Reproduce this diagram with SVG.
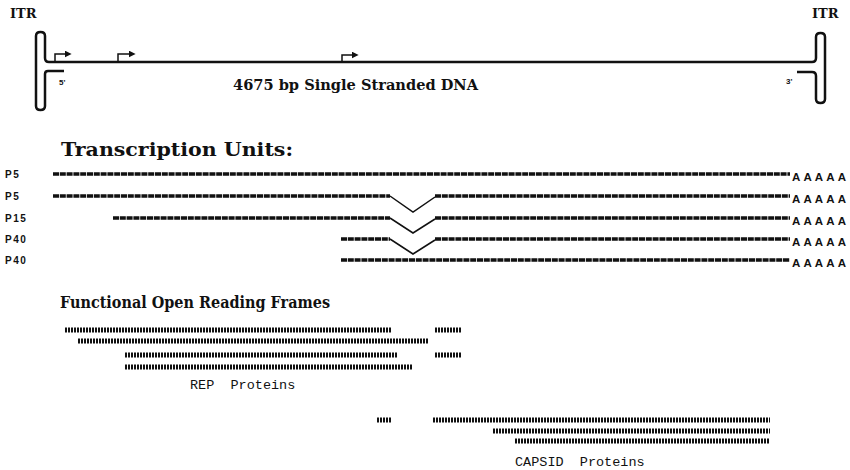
<svg xmlns="http://www.w3.org/2000/svg" width="850" height="470" viewBox="0 0 850 470">
<style>
.bg{fill:#fff}
.dna{fill:none;stroke:#111;stroke-width:2.5;stroke-linejoin:round}
.prom{fill:none;stroke:#111;stroke-width:1.5}
.itr{font-family:"DejaVu Serif","Liberation Serif",serif;font-weight:bold;font-size:13px;fill:#111}
.end{font-family:"Liberation Sans",Arial,sans-serif;font-weight:bold;font-size:8px;fill:#111}
.title{font-family:"DejaVu Serif","Liberation Serif",serif;font-weight:bold;fill:#111}
.tu{fill:none;stroke:#111;stroke-width:3.5;stroke-dasharray:6 0.8}
.vee{fill:none;stroke:#111;stroke-width:1.5}
.plab{font-family:"Liberation Sans",Arial,sans-serif;font-weight:bold;font-size:10px;letter-spacing:1.5px;fill:#111}
.polya{font-family:"Liberation Sans",Arial,sans-serif;font-weight:bold;font-size:11.5px;fill:#111}
.orf{fill:none;stroke:#111;stroke-width:5;stroke-dasharray:2 1}
.prot{font-family:"Liberation Mono","Courier New",monospace;font-size:13.5px;fill:#111}
</style>
<defs>
<marker id="ah" viewBox="0 0 10 10" refX="2" refY="5" markerWidth="7" markerHeight="7" markerUnits="userSpaceOnUse" orient="auto">
<path d="M0,0 L10,5 L0,10 z" fill="#111"/>
</marker>
</defs>
<rect class="bg" x="0" y="0" width="850" height="470"/>

<g id="genome">
<path class="dna" d="M64,71 L48,71 Q45,71 45,74 L45,106 Q45,110 40.5,110 Q36,110 36,106 L36,36 Q36,32 40.5,32 Q45,32 45,36 L45,58 Q45,62 49,62 L812,62 Q816,62 816,58 L816,37 Q816,33 820.5,33 Q825,33 825,37 L825,99 Q825,103 820.5,103 Q816,103 816,99 L816,76 Q816,72 812,72 L797,72"/>
<text class="itr" x="10" y="18">ITR</text>
<text class="itr" x="812" y="18">ITR</text>
<text class="end" x="59" y="85">5'</text>
<text class="end" x="786" y="84">3'</text>
<text class="title" x="233" y="90" font-size="14" textLength="245" lengthAdjust="spacingAndGlyphs">4675 bp Single Stranded DNA</text>
</g>

<g id="promoters">
<path class="prom" d="M55,62 V54 H66" marker-end="url(#ah)"/>
<path class="prom" d="M118,62 V54 H130" marker-end="url(#ah)"/>
<path class="prom" d="M342,62 V55 H353" marker-end="url(#ah)"/>
</g>

<text class="title" x="61" y="156" font-size="19" textLength="232" lengthAdjust="spacingAndGlyphs">Transcription Units:</text>

<g id="tu1">
<text class="plab" x="5" y="178">P5</text>
<path class="tu" d="M53,174 H790"/>
<text class="polya" x="792" y="181" textLength="54" lengthAdjust="spacing">AAAAA</text>
</g>
<g id="tu2">
<text class="plab" x="5" y="200">P5</text>
<path class="tu" d="M53,196 H390"/>
<path class="vee" d="M390,196 L413,212 L435,197"/>
<path class="tu" d="M435,196 H790"/>
<text class="polya" x="792" y="203" textLength="54" lengthAdjust="spacing">AAAAA</text>
</g>
<g id="tu3">
<text class="plab" x="5" y="222">P15</text>
<path class="tu" d="M113,218 H390"/>
<path class="vee" d="M390,218 L413,233 L435,219"/>
<path class="tu" d="M435,218 H790"/>
<text class="polya" x="792" y="225" textLength="54" lengthAdjust="spacing">AAAAA</text>
</g>
<g id="tu4">
<text class="plab" x="5" y="243">P40</text>
<path class="tu" d="M341,239 H390"/>
<path class="vee" d="M390,239 L413,254 L435,240"/>
<path class="tu" d="M435,239 H790"/>
<text class="polya" x="792" y="246" textLength="54" lengthAdjust="spacing">AAAAA</text>
</g>
<g id="tu5">
<text class="plab" x="5" y="264">P40</text>
<path class="tu" d="M341,260 H790"/>
<text class="polya" x="792" y="267" textLength="54" lengthAdjust="spacing">AAAAA</text>
</g>

<text class="title" x="60" y="308" font-size="17" textLength="270" lengthAdjust="spacingAndGlyphs">Functional Open Reading Frames</text>

<g id="rep">
<path class="orf" d="M65,330 H392 M435,330 H462"/>
<path class="orf" d="M78,341 H428"/>
<path class="orf" d="M125,355 H398 M435,355 H462"/>
<path class="orf" d="M125,367 H412"/>
<text class="prot" x="190" y="389" xml:space="preserve">REP  Proteins</text>
</g>

<g id="capsid">
<path class="orf" d="M377,420 H392 M433,420 H770"/>
<path class="orf" d="M493,431 H770"/>
<path class="orf" d="M515,441 H770"/>
<text class="prot" x="515" y="466" xml:space="preserve">CAPSID  Proteins</text>
</g>
</svg>
